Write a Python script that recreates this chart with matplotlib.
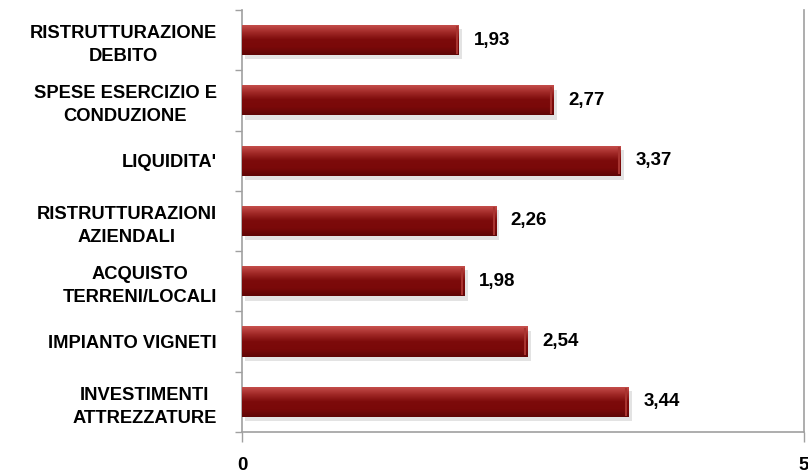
import numpy as np
import matplotlib
matplotlib.use('Agg')
import matplotlib.pyplot as plt
from matplotlib.colors import LinearSegmentedColormap

# dati (dall'alto verso il basso)
categorie = [
    "RISTRUTTURAZIONE\nDEBITO",
    "SPESE ESERCIZIO E\nCONDUZIONE",
    "LIQUIDITA'",
    "RISTRUTTURAZIONI\nAZIENDALI",
    "ACQUISTO\nTERRENI/LOCALI",
    "IMPIANTO VIGNETI",
    "INVESTIMENTI\nATTREZZATURE",
]
valori = [1.93, 2.77, 3.37, 2.26, 1.98, 2.54, 3.44]
etichette = ["1,93", "2,77", "3,37", "2,26", "1,98", "2,54", "3,44"]

plt.rcParams['font.family'] = ['Liberation Sans', 'DejaVu Sans']
plt.rcParams['font.weight'] = 'bold'

fig = plt.figure(figsize=(8.08, 4.71), dpi=100)
ax = fig.add_axes([0.2995, 0.0828, 0.6955, 0.896])

n = len(categorie)
ypos = np.arange(n)[::-1]  # prima categoria in alto
altezza = 0.5

# ombra sotto le barre
ax.barh(ypos - 0.07, valori, height=altezza, left=0.03,
        color='#808080', alpha=0.22, zorder=1)

bars = ax.barh(ypos, valori, height=altezza, color='#7a0a0a', zorder=2)

# gradiente verticale per l'effetto rilievo
cmap = LinearSegmentedColormap.from_list(
    'rosso', ['#5e0606', '#7a0909', '#7d0b0b', '#a22a28', '#c9524f'])
grad = np.linspace(0, 1, 64).reshape(-1, 1)
for b in bars:
    x0, y0 = b.get_x(), b.get_y()
    w, h = b.get_width(), b.get_height()
    im = ax.imshow(grad, cmap=cmap, aspect='auto', origin='lower',
                   extent=[x0, x0 + w, y0, y0 + h], zorder=3)
    im.set_clip_path(b)
    # bordo destro più chiaro
    ax.plot([x0 + w - 0.02, x0 + w - 0.02], [y0 + 0.04, y0 + h - 0.04],
            color='#a83430', lw=1.5, zorder=4)

for y, v, t in zip(ypos, valori, etichette):
    ax.text(v + 0.13, y, t, va='center', ha='left', fontsize=13.5,
            fontweight='bold', color='black', zorder=5)

ax.set_xlim(0, 5)
ax.set_ylim(-0.5, n - 0.5)

ax.set_xticks([0, 5])
ax.set_xticklabels(['0', '5'], fontsize=13.5, fontweight='bold')
ax.set_yticks(ypos)
ax.set_yticklabels(categorie, fontsize=13.2, fontweight='bold',
                   multialignment='center', linespacing=1.45)
ax.set_yticks(np.arange(n + 1) - 0.5, minor=True)

ax.tick_params(axis='y', which='major', length=0, pad=18)
ax.tick_params(axis='y', which='minor', length=5, color='#a0a0a0', width=1)
ax.tick_params(axis='x', which='major', length=7, color='#a0a0a0', width=1,
               pad=11)

for s in ['left', 'bottom', 'right']:
    ax.spines[s].set_color('#a0a0a0')
    ax.spines[s].set_linewidth(1.2)
ax.spines['top'].set_visible(False)

fig.savefig('out.png', dpi=100)
